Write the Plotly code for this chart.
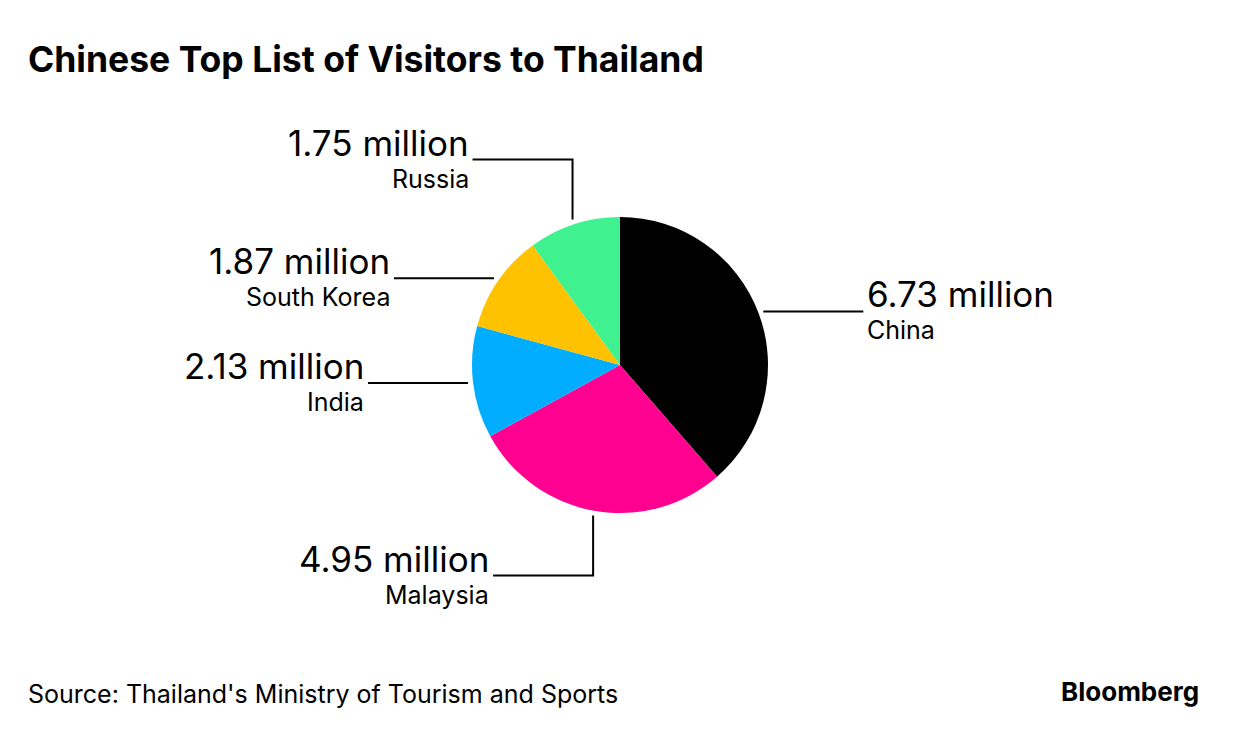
import numpy as np
import plotly.graph_objects as go

# Data (visitors, millions)
countries = ["China", "Malaysia", "India", "South Korea", "Russia"]
visitors = [6.73, 4.95, 2.13, 1.87, 1.75]
colors = ["#000000", "#ff0090", "#00adfe", "#ffc200", "#40f28f"]

title = "Chinese Top List of Visitors to Thailand"
source = "Source: Thailand's Ministry of Tourism and Sports"

W, H = 1240, 752
OFF = 8  # page body margin of the browser
FONT = "Inter"

# pie placement in pixels
cx, cy, r = 620, 365, 148
gap, arm, drop = 5, 100, 60


def px(x):
    return (x - OFF) / W


def py(y):
    return 1 - (y - OFF) / H


fig = go.Figure(go.Pie(
    labels=countries, values=visitors, sort=False, direction="clockwise",
    rotation=0, marker=dict(colors=colors, line=dict(width=0)),
    textinfo="none", hoverinfo="label+value", showlegend=False,
    domain=dict(x=[px(cx - r), px(cx + r)], y=[py(cy + r), py(cy - r)]),
))

# leader lines and labels from slice mid-angles
vals = np.array(visitors)
frac = vals / vals.sum()
mids = (np.cumsum(frac) - frac / 2) * 2 * np.pi

shapes, annots = [], []
for name, v, a in zip(countries, visitors, mids):
    ex = cx + (r + gap) * np.sin(a)
    ey = cy - (r + gap) * np.cos(a)
    side = 1 if np.sin(a) > 0 else -1
    if abs(np.cos(a)) > 0.9:
        vy = ey - drop if np.cos(a) > 0 else ey + drop
        pts = [(ex, ey), (ex, vy), (ex + side * arm, vy)]
    else:
        pts = [(ex, ey), (ex + side * arm, ey)]
    path = "M " + " L ".join(f"{px(x)},{py(y)}" for x, y in pts)
    shapes.append(dict(type="path", xref="paper", yref="paper", path=path,
                       line=dict(color="black", width=2)))
    lx, ly = pts[-1]
    tx = lx + side * 2
    anchor = "left" if side > 0 else "right"
    annots.append(dict(x=px(tx), y=py(ly), xref="paper", yref="paper",
                       text=f"{v:.2f} million", showarrow=False, xanchor=anchor,
                       yanchor="middle", yshift=17,
                       font=dict(family=FONT, size=35, color="black")))
    annots.append(dict(x=px(tx), y=py(ly), xref="paper", yref="paper",
                       text=name, showarrow=False, xanchor=anchor,
                       yanchor="middle", yshift=-19,
                       font=dict(family=FONT, size=25, color="black")))

annots.append(dict(x=px(26), y=py(59), xref="paper", yref="paper", text=f"<b>{title}</b>",
                   showarrow=False, xanchor="left", yanchor="middle",
                   font=dict(family=FONT, size=35.5, color="black")))
annots.append(dict(x=px(26), y=py(694), xref="paper", yref="paper", text=source,
                   showarrow=False, xanchor="left", yanchor="middle",
                   font=dict(family=FONT, size=25, color="black")))
annots.append(dict(x=px(1201), y=py(691), xref="paper", yref="paper", text="<b>Bloomberg</b>",
                   showarrow=False, xanchor="right", yanchor="middle",
                   font=dict(family=FONT, size=26, color="black")))

fig.update_layout(
    width=W, height=H, margin=dict(l=0, r=0, t=0, b=0),
    paper_bgcolor="white", plot_bgcolor="white",
    shapes=shapes, annotations=annots,
)

fig.write_html("out.html")
